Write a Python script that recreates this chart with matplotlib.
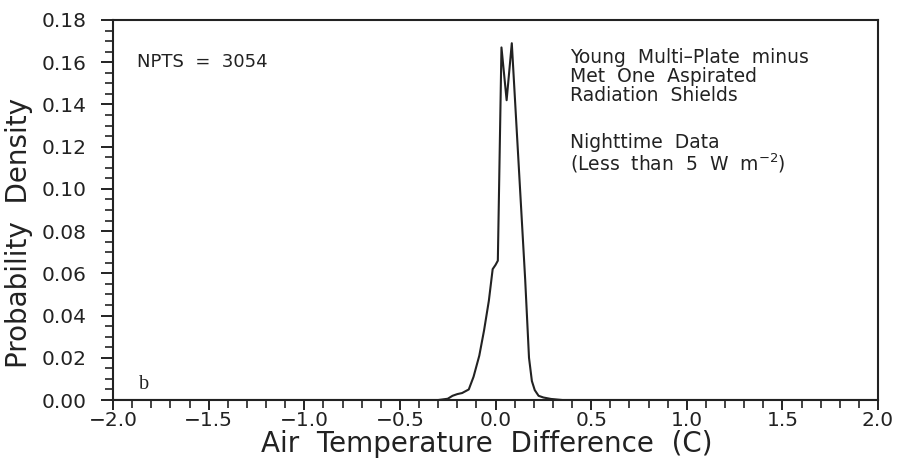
import matplotlib
matplotlib.use('Agg')
import matplotlib.pyplot as plt
import numpy as np
from matplotlib.ticker import MultipleLocator, FuncFormatter

# curve (air temperature difference, probability density)
temp_diff = [-2.0, -0.30, -0.25, -0.225, -0.20, -0.175, -0.14, -0.115, -0.085,
             -0.06, -0.035, -0.015, 0.0, 0.012, 0.031, 0.058, 0.085, 0.105,
             0.13, 0.155, 0.175, 0.19, 0.205, 0.225, 0.25, 0.29, 0.35, 2.0]
density = [0.0, 0.0, 0.0006, 0.002, 0.0028, 0.0033, 0.005, 0.011, 0.021,
           0.033, 0.047, 0.062, 0.064, 0.066, 0.167, 0.142, 0.169, 0.137,
           0.097, 0.057, 0.020, 0.009, 0.0047, 0.002, 0.0012, 0.0005, 0.0, 0.0]

npts = 3054
info_lines = ['Young  Multi\u2013Plate  minus', 'Met  One  Aspirated', 'Radiation  Shields']
night_lines = ['Nighttime  Data', r'(Less  than  5  W  m$^{-2}$)']

ink = '#222222'


def fmt(decimals):
    return FuncFormatter(lambda v, pos: f'{v:.{decimals}f}'.replace('-', '\u2212'))


fig = plt.figure(figsize=(9, 4.66), dpi=100)
ax = fig.add_axes([0.1256, 0.1416, 0.85, 0.8155])

ax.plot(temp_diff, density, color=ink, linewidth=1.5)

ax.set_xlim(-2.0, 2.0)
ax.set_ylim(0.0, 0.18)
ax.xaxis.set_major_locator(MultipleLocator(0.5))
ax.xaxis.set_minor_locator(MultipleLocator(0.1))
ax.yaxis.set_major_locator(MultipleLocator(0.02))
ax.yaxis.set_minor_locator(MultipleLocator(0.005))
ax.xaxis.set_major_formatter(fmt(1))
ax.yaxis.set_major_formatter(fmt(2))
ax.tick_params(which='major', direction='out', length=9, width=1.4, labelsize=14.5, colors=ink)
ax.tick_params(which='minor', direction='out', length=5.5, width=1.2, colors=ink)
ax.tick_params(axis='x', which='major', length=7, pad=1)
ax.tick_params(axis='y', which='major', pad=10)
for s in ax.spines.values():
    s.set_linewidth(1.5)
    s.set_color(ink)

ax.set_xlabel('Air  Temperature  Difference  (C)', fontsize=20, color=ink)
ax.set_ylabel('Probability  Density', fontsize=20, color=ink)
ax.xaxis.set_label_coords(0.489, -0.08)
ax.yaxis.set_label_coords(-0.105, 0.44)

ax.text(0.031, 0.889, f'NPTS  =  {npts}', transform=ax.transAxes, fontsize=13, color=ink, va='center')
ax.text(0.597, 0.926, '\n'.join(info_lines), transform=ax.transAxes, fontsize=13.5,
        color=ink, va='top', linespacing=0.98)
ax.text(0.597, 0.703, '\n'.join(night_lines), transform=ax.transAxes, fontsize=13.5,
        color=ink, va='top', linespacing=0.98)
ax.text(0.034, 0.04, 'b', transform=ax.transAxes, fontsize=14.5, family='Liberation Serif',
        color=ink, va='center')

fig.savefig('out.png', dpi=100)
